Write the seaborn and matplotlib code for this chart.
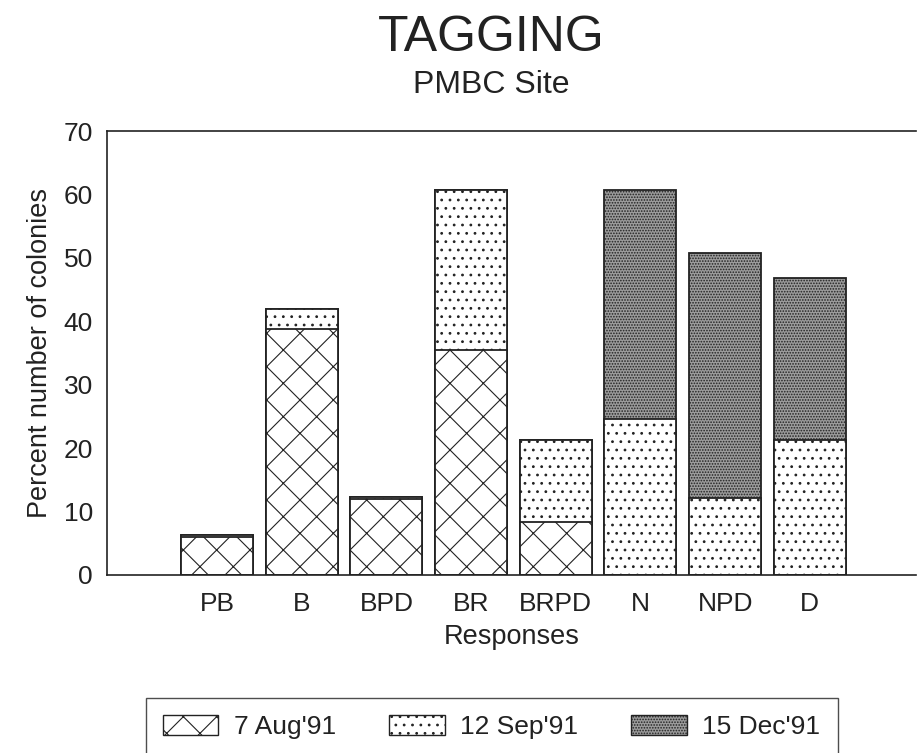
import numpy as np
import pandas as pd
import matplotlib.pyplot as plt
import seaborn as sns
from matplotlib.patches import Patch

# data
responses = ['PB', 'B', 'BPD', 'BR', 'BRPD', 'N', 'NPD', 'D']
aug91 = [6.0, 38.8, 12.0, 35.5, 8.4, 0.0, 0.0, 0.0]
sep91 = [0.3, 3.1, 0.3, 25.2, 12.9, 24.6, 12.2, 21.3]
dec91 = [0.0, 0.0, 0.0, 0.0, 0.0, 36.1, 38.5, 25.5]
series = ["7 Aug'91", "12 Sep'91", "15 Dec'91"]

sns.set_style('white')
plt.rcParams['font.family'] = ['Liberation Sans', 'DejaVu Sans']
plt.rcParams['hatch.linewidth'] = 0.8
plt.rcParams['hatch.color'] = '#333333'
ink = '#222222'

df = pd.DataFrame({'resp': responses, 'aug': aug91, 'sep': sep91, 'dec': dec91})
df['c1'] = df.aug
df['c2'] = df.aug + df.sep
df['c3'] = df.aug + df.sep + df.dec

fig = plt.figure(figsize=(9.19, 7.53), dpi=100)
ax = fig.add_axes([0.1164, 0.2364, 0.88, 0.5896])

# draw cumulative totals back to front so each layer sits on the one below
styles = [('c3', '#9c9c9c', '......'), ('c2', 'white', '..'), ('c1', 'white', 'x')]
for col, fc, hatch in styles:
    sns.barplot(data=df, x='resp', y=col, color=fc, width=0.85, ax=ax,
                edgecolor=ink, linewidth=1.3, saturation=1)
    for p in ax.containers[-1]:
        p.set_hatch(hatch)
        p.set_facecolor(fc)

ax.set_ylim(0, 70)
ax.set_xlim(-1.3, 8.25)
ax.set_yticks(range(0, 71, 10))
ax.set_xticks(np.arange(8))
ax.set_xticklabels(responses)
ax.tick_params(axis='x', which='major', length=0, pad=12, labelsize=19, colors=ink)
ax.set_xticks(np.arange(0.5, 7, 1), minor=True)
ax.tick_params(axis='x', which='minor', length=8, direction='out', color=ink)
ax.tick_params(axis='y', length=9, direction='out', labelsize=19, colors=ink, pad=1)
for s in ['left', 'bottom', 'top']:
    ax.spines[s].set_color(ink)
    ax.spines[s].set_linewidth(1.2)
ax.spines['right'].set_visible(False)

ax.set_xlabel('Responses', fontsize=19.5, color=ink, labelpad=6)
ax.set_ylabel('Percent number of colonies', fontsize=19.5, color=ink, labelpad=8)

fig.text(0.535, 0.95, 'TAGGING', ha='center', va='center', fontsize=36, color=ink)
fig.text(0.535, 0.887, 'PMBC Site', ha='center', va='center', fontsize=23, color=ink)

handles = [Patch(facecolor=fc, edgecolor=ink, hatch=h, linewidth=1)
           for _, fc, h in styles[::-1]]
leg = fig.legend(handles, series, loc='upper center', bbox_to_anchor=(0.535, 0.073),
                 ncol=3, fontsize=19, frameon=True, fancybox=False, edgecolor=ink,
                 handlelength=2.1, handleheight=0.8, handletextpad=0.6,
                 columnspacing=2.0, borderpad=0.65, borderaxespad=0, labelcolor=ink)
leg.get_frame().set_linewidth(1.0)

plt.savefig('out.png', dpi=100)
